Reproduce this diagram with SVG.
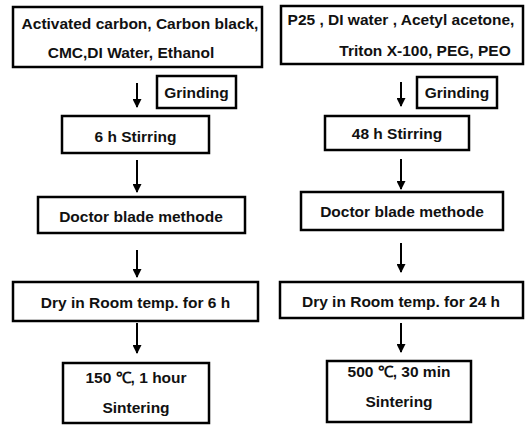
<svg xmlns="http://www.w3.org/2000/svg" width="529" height="426" viewBox="0 0 529 426">
<style>
.box{fill:#fff;stroke:#000;stroke-width:2.5}
.t{font-family:"Liberation Sans",Arial,sans-serif;font-size:15.5px;font-weight:bold;fill:#111;text-anchor:middle;dominant-baseline:central}
.c{stroke:#000;stroke-width:2;fill:none;marker-end:url(#ah)}
</style>
<defs>
<marker id="ah" viewBox="0 0 10 10" refX="9" refY="5" markerWidth="5" markerHeight="4.5" orient="auto" markerUnits="strokeWidth">
<path d="M0,0 L10,5 L0,10 z" fill="#000"/>
</marker>
</defs>
<rect width="529" height="426" fill="#fff"/>
<g id="connectors">
<line class="c" x1="137" y1="83" x2="137" y2="107"/>
<line class="c" x1="137" y1="160" x2="137" y2="192"/>
<line class="c" x1="137" y1="250" x2="137" y2="277"/>
<line class="c" x1="137" y1="323" x2="137" y2="353"/>
<line class="c" x1="401" y1="82" x2="401" y2="106"/>
<line class="c" x1="401" y1="159" x2="401" y2="189"/>
<line class="c" x1="401" y1="243" x2="401" y2="272"/>
<line class="c" x1="401" y1="323" x2="401" y2="352"/>
</g>
<g id="L1"><rect class="box" x="13" y="7" width="249" height="60"/>
<text class="t" x="140" y="23">Activated carbon, Carbon black,</text>
<text class="t" x="131" y="52">CMC,DI Water, Ethanol</text></g>
<g id="LG"><rect class="box" x="157" y="76" width="79" height="32"/><text class="t" x="196.5" y="92">Grinding</text></g>
<g id="L2"><rect class="box" x="62" y="116" width="147" height="37"/><text class="t" x="135.5" y="136">6 h Stirring</text></g>
<g id="L3"><rect class="box" x="38" y="197" width="207" height="36"/><text class="t" x="141" y="216">Doctor blade methode</text></g>
<g id="L4"><rect class="box" x="13" y="282" width="245" height="39"/><text class="t" x="135.5" y="302">Dry in Room temp. for 6 h</text></g>
<g id="L5"><rect class="box" x="63" y="363" width="146" height="60"/>
<text class="t" x="136" y="377">150 ℃, 1 hour</text>
<text class="t" x="136" y="407">Sintering</text></g>
<g id="R1"><rect class="box" x="281" y="6" width="242" height="58"/>
<text class="t" x="401" y="19">P25 , DI water , Acetyl acetone,</text>
<text class="t" x="425" y="50">Triton X-100, PEG, PEO</text></g>
<g id="RG"><rect class="box" x="417" y="77" width="80" height="31"/><text class="t" x="457" y="92">Grinding</text></g>
<g id="R2"><rect class="box" x="325" y="116" width="144" height="34"/><text class="t" x="397" y="133">48 h Stirring</text></g>
<g id="R3"><rect class="box" x="301" y="192" width="202" height="38"/><text class="t" x="402" y="211">Doctor blade methode</text></g>
<g id="R4"><rect class="box" x="280" y="282" width="243" height="36"/><text class="t" x="401" y="301">Dry in Room temp. for 24 h</text></g>
<g id="R5"><rect class="box" x="327" y="361" width="144" height="61"/>
<text class="t" x="399" y="371">500 ℃, 30 min</text>
<text class="t" x="399" y="401">Sintering</text></g>
</svg>
